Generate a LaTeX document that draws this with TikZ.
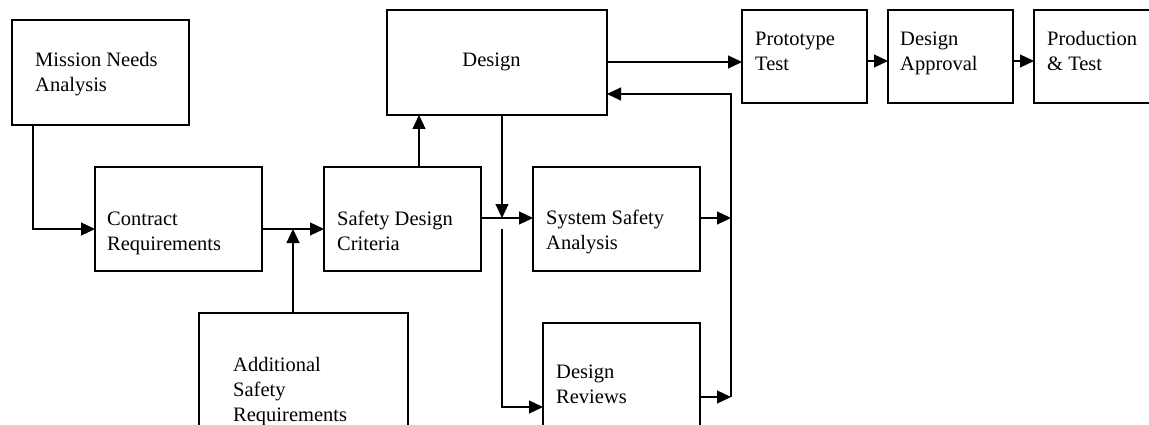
\documentclass[tikz,border=0pt]{standalone}
\usepackage{fontspec}
\setmainfont{Liberation Serif}
\usetikzlibrary{arrows.meta}
\begin{document}
\begin{tikzpicture}[x=1pt,y=-1pt,
  box/.style={draw, line width=1.2pt, rectangle, inner sep=0pt, outer sep=0pt},
  lbl/.style={inner sep=0pt, align=left, anchor=base west, font=\fontsize{20.5}{25}\selectfont},
  arr/.style={line width=1.2pt, -{Triangle[length=14pt,width=13pt]}}]
\useasboundingbox (0,0) rectangle (1149,425);
\clip (0,0) rectangle (1149,425);

% boxes
\node[box, minimum width=177pt, minimum height=105pt] (mna) at (100.5,72.5) {};
\node[box, minimum width=167pt, minimum height=104pt] (cr)  at (178.5,219) {};
\node[box, minimum width=157pt, minimum height=104pt] (sdc) at (402.5,219) {};
\node[box, minimum width=209pt, minimum height=132pt] (asr) at (303.5,379) {};
\node[box, minimum width=220pt, minimum height=105pt] (des) at (497,62.5) {};
\node[box, minimum width=167pt, minimum height=104pt] (ssa) at (616.5,219) {};
\node[box, minimum width=157pt, minimum height=122pt] (dr)  at (621.5,384) {};
\node[box, minimum width=125pt, minimum height=93pt]  (pt)  at (804.5,56.5) {};
\node[box, minimum width=125pt, minimum height=93pt]  (da)  at (950.5,56.5) {};
\node[box, minimum width=126pt, minimum height=93pt]  (pr)  at (1097,56.5) {};

% labels (anchored at the baseline of the last line)
\node[lbl] (tmna) at (35,92)  {Mission Needs\\Analysis};
\node[lbl] (tcr)  at (107,250) {Contract\\Requirements};
\node[lbl] (tsdc) at (337,250) {Safety Design\\Criteria};
\node[lbl] (tasr) at (233,421) {Additional\\Safety\\Requirements};
\node[lbl, anchor=base] (tdes) at (491.5,67) {Design};
\node[lbl] (tssa) at (546,249) {System Safety\\Analysis};
\node[lbl] (tdr)  at (556,403) {Design\\Reviews};
\node[lbl] (tpt)  at (755,71)  {Prototype\\Test};
\node[lbl] (tda)  at (900,71)  {Design\\Approval};
\node[lbl] (tpr)  at (1047,71) {Production\\\& Test};

% junction points
\coordinate (jreq) at (293,229);
\coordinate (jdes) at (502,218);
\coordinate (jrev) at (502,229);
\coordinate (bustop) at (731,94);
\coordinate (busssa) at (731,218);
\coordinate (busdr) at (731,397);

% connectors
\draw[arr] (mna.south -| 33,0) |- (cr.west |- 0,229);
\draw[arr] (cr.east |- 0,229) -- (sdc.west |- 0,229);
\draw[arr] (asr.north -| jreq) -- (jreq);
\draw[arr] (sdc.north -| 419,0) -- (des.south -| 419,0);
\draw[arr] (des.south -| jdes) -- (jdes);
\draw[arr] (sdc.east |- jdes) -- (ssa.west |- jdes);
\draw[arr] (jrev) |- (dr.west |- 0,407);
\draw[arr] (ssa.east |- busssa) -- (busssa);
\draw[arr] (dr.east |- busdr) -- (busdr);
\draw[arr] (busdr) -- (bustop) -- (des.east |- bustop);
\draw[arr] (des.east |- 0,62) -- (pt.west |- 0,62);
\draw[arr] (pt.east |- 0,61) -- (da.west |- 0,61);
\draw[arr] (da.east |- 0,61) -- (pr.west |- 0,61);
\end{tikzpicture}
\end{document}
